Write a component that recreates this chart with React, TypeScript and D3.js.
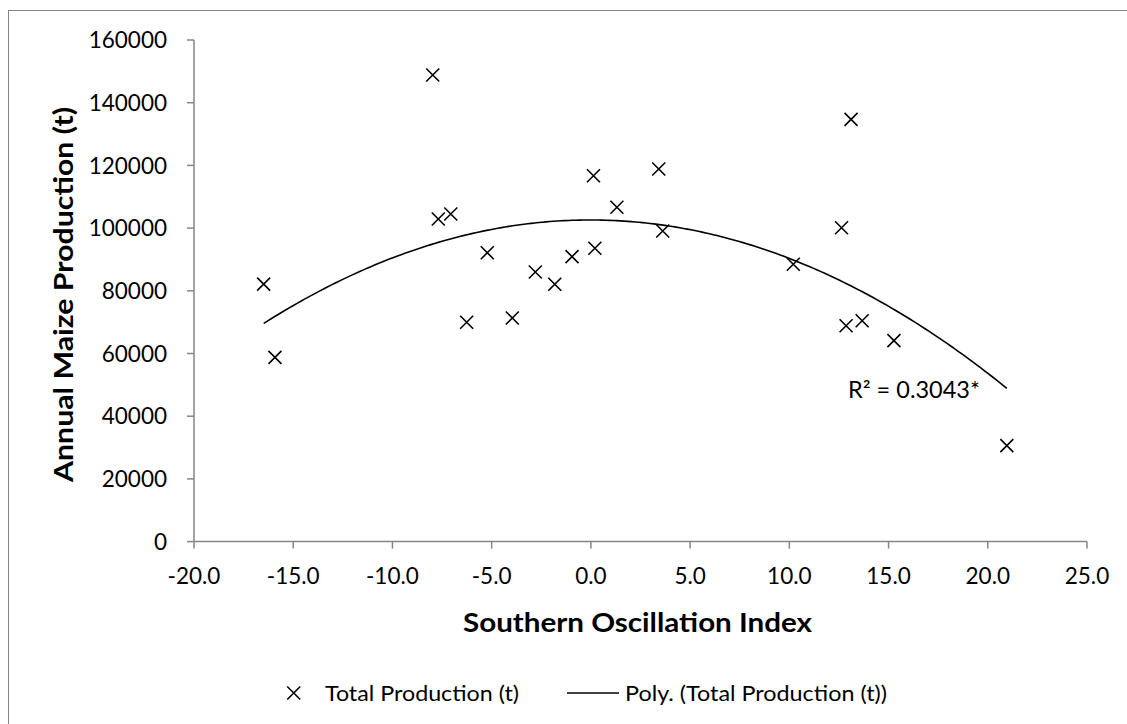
import React from "react";
import * as d3 from "d3";

const soi = [-16.49, -15.92, -7.97, -7.69, -7.06, -6.26, -5.22, -3.96, -2.8, -1.82, -0.95, 0.13, 0.2, 1.31, 3.42, 3.62, 10.2, 12.63, 12.86, 13.11, 13.67, 15.27, 20.96];
const production = [82150, 58780, 148840, 102900, 104500, 69950, 92150, 71330, 86000, 82080, 90900, 116700, 93560, 106640, 118850, 99070, 88450, 100130, 68870, 134700, 70460, 64090, 30600];
const xTicks = [-20, -15, -10, -5, 0, 5, 10, 15, 20, 25];
const yTicks = [0, 20000, 40000, 60000, 80000, 100000, 120000, 140000, 160000];
const seriesName = "Total Production (t)";
const trendName = "Poly. (Total Production (t))";
const r2Label = "R² = 0.3043*";
const xTitle = "Southern Oscillation Index";
const yTitle = "Annual Maize Production (t)";

function quadFit(xs: number[], ys: number[]) {
  // least squares y = a + b x + c x^2
  const n = xs.length;
  const s = [0, 0, 0, 0, 0];
  const t = [0, 0, 0];
  for (let i = 0; i < n; i++) {
    const x = xs[i], y = ys[i];
    for (let k = 0; k < 5; k++) s[k] += Math.pow(x, k);
    for (let k = 0; k < 3; k++) t[k] += y * Math.pow(x, k);
  }
  const M = [
    [s[0], s[1], s[2], t[0]],
    [s[1], s[2], s[3], t[1]],
    [s[2], s[3], s[4], t[2]],
  ];
  for (let i = 0; i < 3; i++) {
    let p = i;
    for (let r = i + 1; r < 3; r++) if (Math.abs(M[r][i]) > Math.abs(M[p][i])) p = r;
    [M[i], M[p]] = [M[p], M[i]];
    for (let r = 0; r < 3; r++) {
      if (r === i) continue;
      const f = M[r][i] / M[i][i];
      for (let c = i; c < 4; c++) M[r][c] -= f * M[i][c];
    }
  }
  return [M[0][3] / M[0][0], M[1][3] / M[1][1], M[2][3] / M[2][2]];
}

export default function App() {
  const W = 1127, H = 724;
  const x = d3.scaleLinear().domain([-20, 25]).range([194, 1087]);
  const y = d3.scaleLinear().domain([0, 160000]).range([541.6, 40]);
  const [a, b, c] = quadFit(soi, production);
  const xmin = d3.min(soi)!, xmax = d3.max(soi)!;
  const curvePts = d3.range(0, 201).map((i) => {
    const xv = xmin + ((xmax - xmin) * i) / 200;
    return [xv, a + b * xv + c * xv * xv] as [number, number];
  });
  const line = d3.line<[number, number]>().x((d) => x(d[0])).y((d) => y(d[1]));
  const axisColor = "#868686";
  const font = "Lato, 'Open Sans', sans-serif";
  const m = 6.5;
  const cross = (cx: number, cy: number, key: any) => (
    <path key={key} d={`M${cx - m},${cy - m}L${cx + m},${cy + m}M${cx - m},${cy + m}L${cx + m},${cy - m}`} stroke="#000" strokeWidth={1.6} fill="none" />
  );
  return (
    <svg width={W} height={H} style={{ position: "absolute", left: 0, top: 0, background: "#fff" }} fontFamily={font}>
      <rect x={8.5} y={10.5} width={1130} height={730} fill="#fff" stroke={axisColor} strokeWidth={1} />
      {/* axes */}
      <line x1={x(-20)} x2={x(-20)} y1={y(0)} y2={y(160000)} stroke={axisColor} strokeWidth={1.5} />
      <line x1={x(-20)} x2={x(25)} y1={y(0)} y2={y(0)} stroke={axisColor} strokeWidth={1.5} />
      {yTicks.map((t) => (
        <g key={"y" + t}>
          <line x1={x(-20) - 7} x2={x(-20)} y1={y(t)} y2={y(t)} stroke={axisColor} strokeWidth={1.5} />
          <text x={167} y={y(t)} dy="0.36em" textAnchor="end" fontSize={22.5} fill="#000">{t}</text>
        </g>
      ))}
      {xTicks.map((t) => (
        <g key={"x" + t}>
          <line x1={x(t)} x2={x(t)} y1={y(0)} y2={y(0) + 7} stroke={axisColor} strokeWidth={1.5} />
          <text x={x(t)} y={584} textAnchor="middle" fontSize={22.5} fill="#000">{t.toFixed(1)}</text>
        </g>
      ))}
      {/* trendline */}
      <path d={line(curvePts) || ""} fill="none" stroke="#000" strokeWidth={1.6} />
      {/* points */}
      {soi.map((s, i) => cross(x(s), y(production[i]), i))}
      <text x={848} y={398} fontSize={22.5} textLength={132} lengthAdjust="spacingAndGlyphs" fill="#000">{r2Label}</text>
      {/* titles */}
      <text x={637.5} y={631.7} textAnchor="middle" fontSize={26.5} fontWeight="bold" textLength={349} lengthAdjust="spacingAndGlyphs" fill="#000">{xTitle}</text>
      <text transform={`translate(73,294.5) rotate(-90)`} textAnchor="middle" fontSize={27.5} fontWeight="bold" textLength={375} lengthAdjust="spacingAndGlyphs" fill="#000">{yTitle}</text>
      {/* legend */}
      {cross(293.75, 693, "leg")}
      <text x={325} y={693} dy="0.36em" fontSize={22} textLength={194} lengthAdjust="spacingAndGlyphs" fill="#000">{seriesName}</text>
      <line x1={567} x2={619} y1={693} y2={693} stroke="#000" strokeWidth={1.6} />
      <text x={625} y={693} dy="0.36em" fontSize={22} textLength={262} lengthAdjust="spacingAndGlyphs" fill="#000">{trendName}</text>
    </svg>
  );
}
